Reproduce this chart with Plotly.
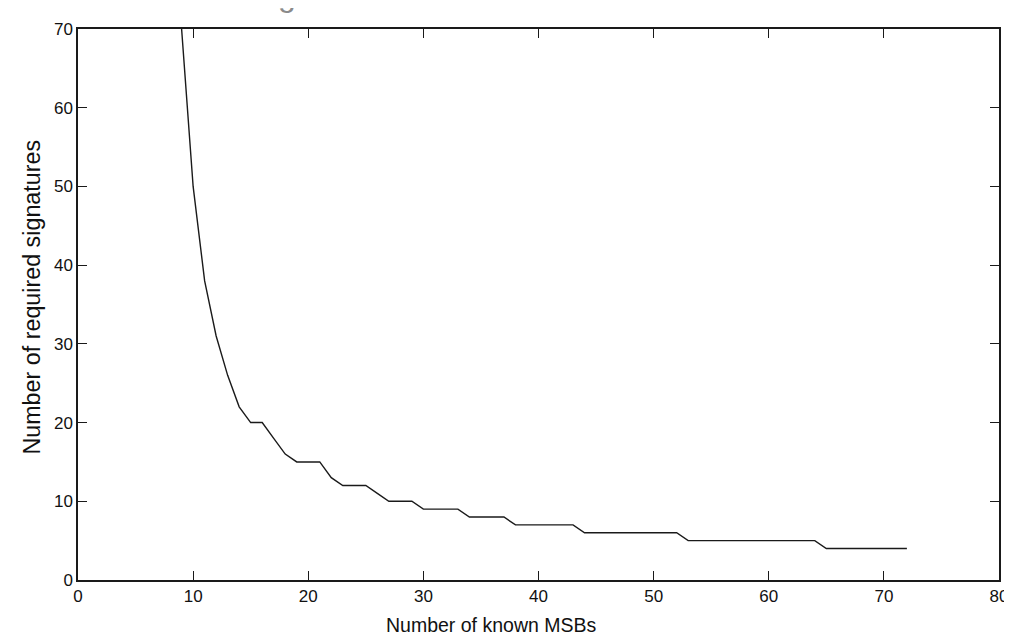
import plotly.graph_objects as go

# Number of known MSBs
msbs = list(range(9, 73))
# Number of required signatures
signatures = [
    70, 50, 38, 31, 26, 22, 20, 20, 18, 16,   # 9-18
    15, 15, 15, 13, 12, 12, 12, 11, 10, 10,   # 19-28
    10, 9, 9, 9, 9, 8, 8, 8, 8, 7,            # 29-38
    7, 7, 7, 7, 7, 6, 6, 6, 6, 6,             # 39-48
    6, 6, 6, 6, 5, 5, 5, 5, 5, 5,             # 49-58
    5, 5, 5, 5, 5, 5, 4, 4, 4, 4,             # 59-68
    4, 4, 4, 4,                               # 69-72
]

x_ticks = [0, 10, 20, 30, 40, 50, 60, 70, 80]
y_ticks = [0, 10, 20, 30, 40, 50, 60, 70]
x_title = "Number of known MSBs"
y_title = "Number of required signatures"

FONT = "Liberation Sans, Arial, Helvetica, sans-serif"

fig = go.Figure()
fig.add_trace(go.Scatter(
    x=msbs, y=signatures, mode="lines",
    line=dict(color="#1a1a1a", width=1.4),
    showlegend=False, hoverinfo="skip",
))

axis_common = dict(
    showgrid=False, zeroline=False,
    showline=True, linecolor="#1a1a1a", linewidth=1.5,
    mirror="ticks", ticks="inside", ticklen=9, tickwidth=1.3,
    tickcolor="#1a1a1a",
    tickfont=dict(family=FONT, size=17, color="#111"),
)

fig.update_layout(
    width=1012, height=636,
    margin=dict(l=70, r=14, t=16, b=64),
    paper_bgcolor="white", plot_bgcolor="white",
    font=dict(family=FONT, size=17, color="#111"),
    xaxis=dict(range=[0, 80], tickvals=x_ticks,
               ticktext=[str(v) for v in x_ticks], **axis_common),
    yaxis=dict(range=[0, 70], tickvals=y_ticks,
               ticktext=[str(v) for v in y_ticks], **axis_common),
    annotations=[
        dict(text=x_title, xref="paper", yref="paper",
             x=(486 - 70) / 928, y=0, xanchor="center", yanchor="middle",
             yshift=-45, showarrow=False, borderpad=0,
             font=dict(family=FONT, size=19.5, color="#111")),
        dict(text=y_title, xref="paper", yref="paper",
             x=0, y=(572 - 287) / 556, xanchor="center", yanchor="middle",
             xshift=-46, textangle=-90, showarrow=False,
             font=dict(family=FONT, size=23.3, color="#111")),
        # bottom of a cropped-off title glyph at the top edge
        dict(text="g", xref="paper", yref="paper",
             x=(281 - 70) / 928, y=1, xanchor="center", yanchor="bottom",
             yshift=14, showarrow=False,
             font=dict(family=FONT, size=32, color="#8a8a8a")),
    ],
)

fig.write_html("out.html")
